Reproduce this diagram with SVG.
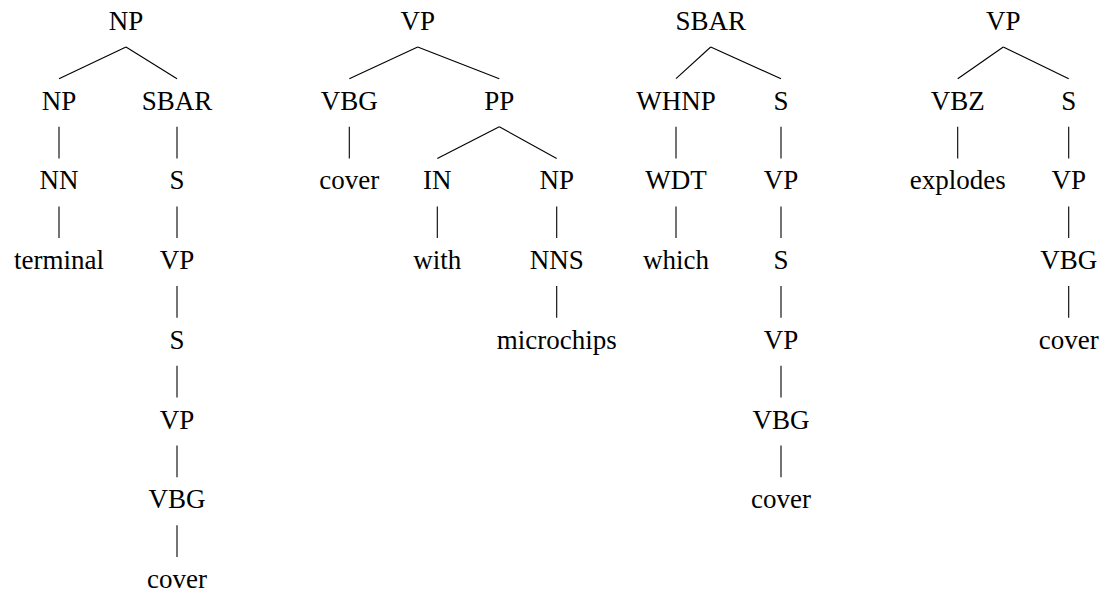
<svg xmlns="http://www.w3.org/2000/svg" width="1104" height="592" viewBox="0 0 1104 592">
  <rect width="1104" height="592" fill="#fff"/>

  <!-- connectors: parent anchor = baseline+17, child anchor = baseline-31 -->
  <g id="connectors" stroke="#000" stroke-width="1.1" fill="none">
    <!-- tree 1 -->
    <line x1="126" y1="47" x2="59" y2="78.7"/>
    <line x1="126" y1="47" x2="177" y2="78.7"/>
    <line x1="59" y1="126.7" x2="59" y2="158.4"/>
    <line x1="59" y1="206.4" x2="59" y2="238.1"/>
    <line x1="177" y1="126.7" x2="177" y2="158.4"/>
    <line x1="177" y1="206.4" x2="177" y2="238.1"/>
    <line x1="177" y1="286.1" x2="177" y2="317.8"/>
    <line x1="177" y1="365.8" x2="177" y2="397.5"/>
    <line x1="177" y1="445.5" x2="177" y2="477.2"/>
    <line x1="177" y1="525.2" x2="177" y2="556.9"/>
    <!-- tree 2 -->
    <line x1="417.7" y1="47" x2="349.3" y2="78.7"/>
    <line x1="417.7" y1="47" x2="499.3" y2="78.7"/>
    <line x1="349.3" y1="126.7" x2="349.3" y2="158.4"/>
    <line x1="499.3" y1="126.7" x2="437.3" y2="158.4"/>
    <line x1="499.3" y1="126.7" x2="556.7" y2="158.4"/>
    <line x1="437.3" y1="206.4" x2="437.3" y2="238.1"/>
    <line x1="556.7" y1="206.4" x2="556.7" y2="238.1"/>
    <line x1="556.7" y1="286.1" x2="556.7" y2="317.8"/>
    <!-- tree 3 -->
    <line x1="710.7" y1="47" x2="676" y2="78.7"/>
    <line x1="710.7" y1="47" x2="781" y2="78.7"/>
    <line x1="676" y1="126.7" x2="676" y2="158.4"/>
    <line x1="676" y1="206.4" x2="676" y2="238.1"/>
    <line x1="781" y1="126.7" x2="781" y2="158.4"/>
    <line x1="781" y1="206.4" x2="781" y2="238.1"/>
    <line x1="781" y1="286.1" x2="781" y2="317.8"/>
    <line x1="781" y1="365.8" x2="781" y2="397.5"/>
    <line x1="781" y1="445.5" x2="781" y2="477.2"/>
    <!-- tree 4 -->
    <line x1="1003.3" y1="47" x2="957.7" y2="78.7"/>
    <line x1="1003.3" y1="47" x2="1068.7" y2="78.7"/>
    <line x1="957.7" y1="126.7" x2="957.7" y2="158.4"/>
    <line x1="1068.7" y1="126.7" x2="1068.7" y2="158.4"/>
    <line x1="1068.7" y1="206.4" x2="1068.7" y2="238.1"/>
    <line x1="1068.7" y1="286.1" x2="1068.7" y2="317.8"/>
  </g>

  <!-- tree 1: NP -> NP SBAR -->
  <g id="t1-np"><text x="126" y="30" style="font-family: 'Liberation Serif', serif; font-size: 27px; text-anchor: middle">NP</text></g>
  <g id="t1-np2"><text x="59" y="109.7" style="font-family: 'Liberation Serif', serif; font-size: 27px; text-anchor: middle">NP</text></g>
  <g id="t1-nn"><text x="59" y="189.4" style="font-family: 'Liberation Serif', serif; font-size: 27px; text-anchor: middle">NN</text></g>
  <g id="t1-terminal"><text x="59" y="269.1" style="font-family: 'Liberation Serif', serif; font-size: 27px; text-anchor: middle">terminal</text></g>
  <g id="t1-sbar"><text x="177" y="109.7" style="font-family: 'Liberation Serif', serif; font-size: 27px; text-anchor: middle">SBAR</text></g>
  <g id="t1-s"><text x="177" y="189.4" style="font-family: 'Liberation Serif', serif; font-size: 27px; text-anchor: middle">S</text></g>
  <g id="t1-vp"><text x="177" y="269.1" style="font-family: 'Liberation Serif', serif; font-size: 27px; text-anchor: middle">VP</text></g>
  <g id="t1-s2"><text x="177" y="348.8" style="font-family: 'Liberation Serif', serif; font-size: 27px; text-anchor: middle">S</text></g>
  <g id="t1-vp2"><text x="177" y="428.5" style="font-family: 'Liberation Serif', serif; font-size: 27px; text-anchor: middle">VP</text></g>
  <g id="t1-vbg"><text x="177" y="508.2" style="font-family: 'Liberation Serif', serif; font-size: 27px; text-anchor: middle">VBG</text></g>
  <g id="t1-cover"><text x="177" y="587.9" style="font-family: 'Liberation Serif', serif; font-size: 27px; text-anchor: middle">cover</text></g>

  <!-- tree 2: VP -> VBG PP -->
  <g id="t2-vp"><text x="417.7" y="30" style="font-family: 'Liberation Serif', serif; font-size: 27px; text-anchor: middle">VP</text></g>
  <g id="t2-vbg"><text x="349.3" y="109.7" style="font-family: 'Liberation Serif', serif; font-size: 27px; text-anchor: middle">VBG</text></g>
  <g id="t2-cover"><text x="349.3" y="189.4" style="font-family: 'Liberation Serif', serif; font-size: 27px; text-anchor: middle">cover</text></g>
  <g id="t2-pp"><text x="499.3" y="109.7" style="font-family: 'Liberation Serif', serif; font-size: 27px; text-anchor: middle">PP</text></g>
  <g id="t2-in"><text x="437.3" y="189.4" style="font-family: 'Liberation Serif', serif; font-size: 27px; text-anchor: middle">IN</text></g>
  <g id="t2-with"><text x="437.3" y="269.1" style="font-family: 'Liberation Serif', serif; font-size: 27px; text-anchor: middle">with</text></g>
  <g id="t2-np"><text x="556.7" y="189.4" style="font-family: 'Liberation Serif', serif; font-size: 27px; text-anchor: middle">NP</text></g>
  <g id="t2-nns"><text x="556.7" y="269.1" style="font-family: 'Liberation Serif', serif; font-size: 27px; text-anchor: middle">NNS</text></g>
  <g id="t2-microchips"><text x="556.7" y="348.8" style="font-family: 'Liberation Serif', serif; font-size: 27px; text-anchor: middle">microchips</text></g>

  <!-- tree 3: SBAR -> WHNP S -->
  <g id="t3-sbar"><text x="710.7" y="30" style="font-family: 'Liberation Serif', serif; font-size: 27px; text-anchor: middle">SBAR</text></g>
  <g id="t3-whnp"><text x="676" y="109.7" style="font-family: 'Liberation Serif', serif; font-size: 27px; text-anchor: middle">WHNP</text></g>
  <g id="t3-wdt"><text x="676" y="189.4" style="font-family: 'Liberation Serif', serif; font-size: 27px; text-anchor: middle">WDT</text></g>
  <g id="t3-which"><text x="676" y="269.1" style="font-family: 'Liberation Serif', serif; font-size: 27px; text-anchor: middle">which</text></g>
  <g id="t3-s"><text x="781" y="109.7" style="font-family: 'Liberation Serif', serif; font-size: 27px; text-anchor: middle">S</text></g>
  <g id="t3-vp"><text x="781" y="189.4" style="font-family: 'Liberation Serif', serif; font-size: 27px; text-anchor: middle">VP</text></g>
  <g id="t3-s2"><text x="781" y="269.1" style="font-family: 'Liberation Serif', serif; font-size: 27px; text-anchor: middle">S</text></g>
  <g id="t3-vp2"><text x="781" y="348.8" style="font-family: 'Liberation Serif', serif; font-size: 27px; text-anchor: middle">VP</text></g>
  <g id="t3-vbg"><text x="781" y="428.5" style="font-family: 'Liberation Serif', serif; font-size: 27px; text-anchor: middle">VBG</text></g>
  <g id="t3-cover"><text x="781" y="508.2" style="font-family: 'Liberation Serif', serif; font-size: 27px; text-anchor: middle">cover</text></g>

  <!-- tree 4: VP -> VBZ S -->
  <g id="t4-vp"><text x="1003.3" y="30" style="font-family: 'Liberation Serif', serif; font-size: 27px; text-anchor: middle">VP</text></g>
  <g id="t4-vbz"><text x="957.7" y="109.7" style="font-family: 'Liberation Serif', serif; font-size: 27px; text-anchor: middle">VBZ</text></g>
  <g id="t4-explodes"><text x="957.7" y="189.4" style="font-family: 'Liberation Serif', serif; font-size: 27px; text-anchor: middle">explodes</text></g>
  <g id="t4-s"><text x="1068.7" y="109.7" style="font-family: 'Liberation Serif', serif; font-size: 27px; text-anchor: middle">S</text></g>
  <g id="t4-vp2"><text x="1068.7" y="189.4" style="font-family: 'Liberation Serif', serif; font-size: 27px; text-anchor: middle">VP</text></g>
  <g id="t4-vbg"><text x="1068.7" y="269.1" style="font-family: 'Liberation Serif', serif; font-size: 27px; text-anchor: middle">VBG</text></g>
  <g id="t4-cover"><text x="1068.7" y="348.8" style="font-family: 'Liberation Serif', serif; font-size: 27px; text-anchor: middle">cover</text></g>
</svg>
